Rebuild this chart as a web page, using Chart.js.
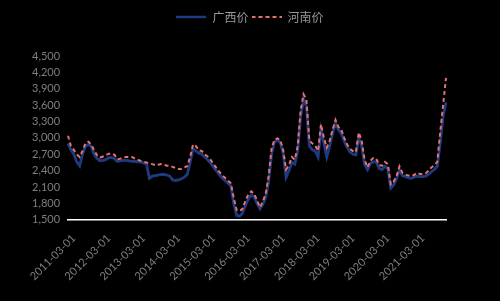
<!DOCTYPE html>
<html>
<head>
<meta charset="utf-8">
<script src="https://cdn.jsdelivr.net/npm/chart.js@4.4.0/dist/chart.umd.min.js"></script>
<style>
  html, body { margin: 0; padding: 0; background: #000; }
  #wrap { width: 500px; height: 301px; }
</style>
</head>
<body>
<div id="wrap"><canvas id="c"></canvas></div>
<script>
// monthly, 2011-01 .. 2021-11
let startYear = 2011, startMonth = 1, monthCount = 131;
let months = [];
for (let i = 0; i < monthCount; i++) {
   let m = startMonth - 1 + i;
   let y = startYear + Math.floor(m / 12);
   let mm = (m % 12) + 1;
   months.push(y + "-" + (mm < 10 ? "0" + mm : mm) + "-01");
}

let guangxi = [2900,2780,2700,2560,2490,2700,2850,2880,2840,2700,
               2620,2580,2590,2600,2640,2640,2620,2570,2580,2590,
               2590,2580,2570,2570,2560,2560,2540,2520,2260,2300,
               2310,2320,2330,2330,2320,2300,2230,2220,2230,2250,
               2280,2330,2550,2800,2760,2720,2700,2650,2600,2540,
               2470,2400,2330,2270,2220,2170,2120,1800,1580,1570,
               1620,1760,1880,1950,1920,1800,1700,1780,1920,2200,
               2700,2920,2960,2920,2720,2280,2400,2550,2520,2760,
               3400,3700,3580,2850,2780,2760,2650,3150,2900,2650,
               2850,3080,3280,3150,3080,2940,2830,2740,2700,2690,
               3000,2850,2520,2420,2530,2560,2560,2440,2420,2480,
               2440,2080,2140,2250,2420,2310,2290,2270,2260,2280,
               2300,2290,2290,2300,2330,2380,2420,2480,2900,3400,
               3650];

let henan = [3040,2850,2780,2700,2650,2760,2900,2930,2880,2770,
             2680,2640,2660,2680,2710,2710,2690,2610,2620,2640,
             2650,2650,2650,2620,2600,2580,2560,2550,2530,2520,
             2500,2510,2520,2510,2490,2490,2470,2450,2430,2430,
             2460,2480,2650,2880,2850,2770,2760,2700,2660,2600,
             2530,2450,2380,2320,2270,2220,2170,1900,1680,1660,
             1700,1850,1960,2020,1980,1860,1730,1830,1980,2300,
             2800,2970,2990,2960,2780,2420,2500,2650,2600,2850,
             3500,3800,3700,2950,2900,2860,2760,3250,3000,2820,
             2950,3150,3330,3200,3150,3000,2880,2800,2760,2740,
             3100,2950,2600,2460,2580,2630,2620,2500,2490,2560,
             2520,2150,2200,2300,2480,2360,2330,2310,2300,2320,
             2360,2340,2340,2350,2400,2460,2500,2560,3100,3600,
             4100];

let yMin = 1500, yMax = 4500, yStep = 300;

let blue = '#1f3a80', red = '#e4716b';

// little line pictures for the legend
function legendLine(color, dash, w) {
   const c = document.createElement('canvas');
   c.width = 30; c.height = 4;
   const g = c.getContext('2d');
   g.strokeStyle = color;
   g.lineWidth = w;
   g.setLineDash(dash);
   g.beginPath();
   g.moveTo(0, 2);
   g.lineTo(30, 2);
   g.stroke();
   return c;
}
let legendIcons = [legendLine(blue, [], 2.5), legendLine(red, [4, 3], 2)];

// extra space under the legend, and legend centred on the whole canvas
const legendGap = {
   id: 'legendGap',
   beforeInit(chart) {
      const fit = chart.legend.fit;
      chart.legend.fit = function() {
         fit.bind(chart.legend)();
         this.height += 23;
      };
   },
   afterLayout(chart) {
      chart.legend.left = 0;
      chart.legend.right = chart.width;
   }
};

const ctx = document.getElementById('c').getContext('2d');
const chart = new Chart(ctx, {
    type: 'line',
    data: {
        labels: months,
        datasets: [
            {
                label: '广西价',
                data: guangxi,
                borderColor: blue,
                borderWidth: 2.8,
                pointRadius: 0,
                tension: 0,
                order: 2
            },
            {
                label: '河南价',
                data: henan,
                borderColor: red,
                borderWidth: 2,
                borderDash: [4, 3],
                pointRadius: 0,
                tension: 0,
                order: 1
            }
        ]
    },
    options: {
        responsive: true,
        maintainAspectRatio: false,
        animation: false,
        layout: { padding: { left: 24, right: 54, top: 8, bottom: 6 } },
        scales: {
            x: {
                offset: false,
                grid: { display: false, drawTicks: false },
                border: { display: true, color: '#ffffff', width: 1.5 },
                ticks: {
                    autoSkip: false,
                    minRotation: 45,
                    maxRotation: 45,
                    padding: 12,
                    color: '#7f7f7f',
                    font: { family: 'Lato', size: 11 },
                    callback: function(v, i) {
                        return months[i].slice(5, 7) === '03' ? months[i] : '';
                    }
                }
            },
            y: {
                min: yMin,
                max: yMax,
                grid: { display: false, drawTicks: false },
                border: { display: false },
                ticks: {
                    stepSize: yStep,
                    autoSkip: false,
                    padding: 8,
                    color: '#7f7f7f',
                    font: { family: 'Lato', size: 11 },
                    callback: v => v.toLocaleString('en-US')
                }
            }
        },
        plugins: {
            tooltip: { enabled: false },
            legend: {
                position: 'top',
                labels: {
                    usePointStyle: true,
                    pointStyleWidth: 30,
                    color: '#999999',
                    font: { family: 'Noto Sans CJK SC', size: 12 },
                    padding: 3,
                    sort: (a, b) => a.datasetIndex - b.datasetIndex,
                    generateLabels: function(chart) {
                        return Chart.defaults.plugins.legend.labels.generateLabels(chart).map(item => {
                            item.pointStyle = legendIcons[item.datasetIndex];
                            return item;
                        });
                    }
                }
            }
        }
    },
    plugins: [legendGap]
});
</script>
</body>
</html>
